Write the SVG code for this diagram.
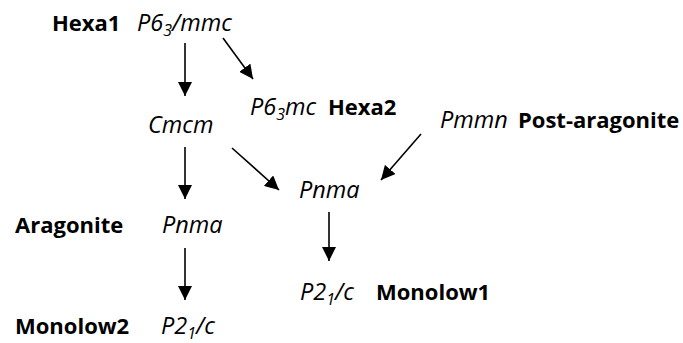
<svg xmlns="http://www.w3.org/2000/svg" width="683" height="343" viewBox="0 0 683 343">
  <style>
    text { font-family: "Open Sans", "Noto Sans", sans-serif; font-size: 22px; fill: #000; }
    .name { font-weight: bold; }
    .sg { font-style: italic; font-size: 23.5px; }
    .sub { font-size: 16px; }
    .arrow { stroke: #000; stroke-width: 1.6; fill: none; marker-end: url(#head); }
  </style>
  <defs>
    <marker id="head" markerWidth="14" markerHeight="14" refX="14" refY="7" orient="auto" markerUnits="userSpaceOnUse">
      <path d="M0,0 L14,7 L0,14 Z" fill="#000"/>
    </marker>
  </defs>

  <g id="hexa1">
    <text class="name" x="52" y="31">Hexa1</text>
    <text class="sg" x="137" y="31">P6<tspan class="sub" dy="5">3</tspan><tspan dy="-5">/mmc</tspan></text>
  </g>
  <g id="hexa2">
    <text class="sg" x="250" y="115">P6<tspan class="sub" dy="5">3</tspan><tspan dy="-5">mc</tspan></text>
    <text class="name" x="328" y="115">Hexa2</text>
  </g>
  <g id="cmcm">
    <text class="sg" x="148" y="133">Cmcm</text>
  </g>
  <g id="post-aragonite">
    <text class="sg" x="440" y="128">Pmmn</text>
    <text class="name" x="518" y="128">Post-aragonite</text>
  </g>
  <g id="pnma-right">
    <text class="sg" x="299" y="198">Pnma</text>
  </g>
  <g id="aragonite">
    <text class="name" x="15" y="233">Aragonite</text>
    <text class="sg" x="162" y="233">Pnma</text>
  </g>
  <g id="monolow1">
    <text class="sg" x="300" y="300">P2<tspan class="sub" dy="5">1</tspan><tspan dy="-5">/c</tspan></text>
    <text class="name" x="376" y="300">Monolow1</text>
  </g>
  <g id="monolow2">
    <text class="name" x="15" y="334">Monolow2</text>
    <text class="sg" x="161" y="334">P2<tspan class="sub" dy="5">1</tspan><tspan dy="-5">/c</tspan></text>
  </g>

  <g id="connectors">
    <line class="arrow" x1="185" y1="43" x2="185" y2="96"/>
    <line class="arrow" x1="223" y1="38" x2="253" y2="79"/>
    <line class="arrow" x1="185" y1="147" x2="185" y2="199"/>
    <line class="arrow" x1="232" y1="148" x2="279" y2="190"/>
    <line class="arrow" x1="421" y1="134" x2="381" y2="180"/>
    <line class="arrow" x1="185" y1="248" x2="185" y2="300"/>
    <line class="arrow" x1="329" y1="212" x2="329" y2="261"/>
  </g>
</svg>
